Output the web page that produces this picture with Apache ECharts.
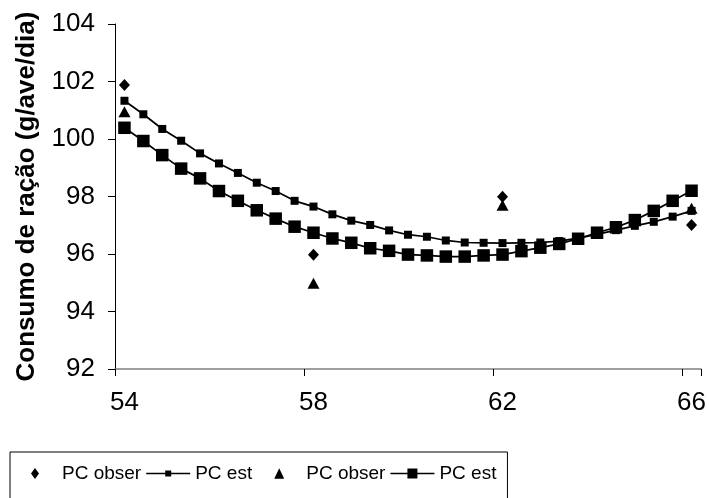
<!DOCTYPE html>
<html>
<head>
<meta charset="utf-8">
<script src="https://cdn.jsdelivr.net/npm/echarts@6/dist/echarts.min.js"></script>
<style>
  html, body { margin: 0; padding: 0; background: #fff; }
  #chart { width: 709px; height: 498px; }
</style>
</head>
<body>
<div id="chart"></div>
<script>
// x categories (dias)
const categories = ['54','54.4','54.8','55.2','55.6','56','56.4','56.8','57.2','57.6',
                    '58','58.4','58.8','59.2','59.6','60','60.4','60.8','61.2','61.6',
                    '62','62.4','62.8','63.2','63.6','64','64.4','64.8','65.2','65.6','66'];
// observed days
const obsCats = ['54', '58', '62', '66'];
// PC obser (diamond)
const pcObser1 = [101.88, 95.97, 97.99, 97.01];
// PC obser (triangle)
const pcObser2 = [100.95, 94.98, 97.70, 97.59];
// PC est (small squares)
const pcEst1 = [101.33, 100.86, 100.35, 99.94, 99.50, 99.15, 98.82, 98.48, 98.19, 97.85,
                97.65, 97.38, 97.16, 97.01, 96.82, 96.67, 96.60, 96.47, 96.40, 96.39,
                96.38, 96.39, 96.40, 96.45, 96.55, 96.68, 96.83, 96.98, 97.12, 97.30, 97.50];
// PC est (big squares)
const pcEst2 = [100.39, 99.93, 99.44, 98.97, 98.63, 98.19, 97.85, 97.52, 97.23, 96.95,
                96.74, 96.54, 96.39, 96.20, 96.11, 95.98, 95.95, 95.91, 95.91, 95.95,
                95.98, 96.10, 96.22, 96.35, 96.53, 96.74, 96.93, 97.18, 97.50, 97.85, 98.20];
const yTicks = [92, 94, 96, 98, 100, 102, 104];
const legendLabels = { obs1: 'PC obser', est1: 'PC est', obs2: 'PC obser', est2: 'PC est' };
const yTitle = 'Consumo de ração (g/ave/dia)';

const FONT = 'Liberation Sans, Arial, sans-serif';
const chart = echarts.init(document.getElementById('chart'), null, { renderer: 'canvas' });

chart.setOption({
  animation: false,
  backgroundColor: '#fff',
  grid: { left: 115, right: 8, top: 24, bottom: 129, containLabel: false, outerBoundsMode: 'none' },
  xAxis: {
    type: 'category',
    data: categories,
    boundaryGap: true,
    axisLine: { show: true, lineStyle: { color: '#808080', width: 1.5 } },
    axisTick: { show: true, interval: 9, length: 7, inside: false, lineStyle: { color: '#000', width: 1 } },
    axisLabel: { interval: 9, margin: 21, fontSize: 26, color: '#000', fontFamily: FONT },
    splitLine: { show: false }
  },
  yAxis: {
    type: 'value',
    min: yTicks[0],
    max: yTicks[yTicks.length - 1],
    interval: 2,
    name: yTitle,
    nameLocation: 'middle',
    nameRotate: 90,
    nameGap: 75,
    nameTextStyle: { fontSize: 26, fontWeight: 'bold', color: '#000', fontFamily: FONT },
    axisLine: { show: true, lineStyle: { color: '#000', width: 1 } },
    axisTick: { show: true, length: 7, inside: false, lineStyle: { color: '#000', width: 1 } },
    axisLabel: { margin: 20, fontSize: 26, color: '#000', fontFamily: FONT },
    splitLine: { show: false }
  },
  legend: {
    left: 10,
    top: 452,
    orient: 'horizontal',
    itemWidth: 44,
    itemHeight: 12,
    itemGap: 5,
    padding: [12, 11, 40, 3],
    borderColor: '#000',
    borderWidth: 1,
    backgroundColor: '#fff',
    selectedMode: false,
    formatter: function (n) { return legendLabels[n]; },
    textStyle: { fontSize: 19, color: '#000', fontFamily: FONT },
    data: [
      { name: 'obs1', icon: 'path://M0,6L0.01,6Z M22,1L26,6.5L22,12L18,6.5Z M44,6L43.99,6Z' },
      { name: 'est1', icon: 'path://M0,5.25H19V3H25V5.25H44V6.75H25V9H19V6.75H0Z M0,0L0.01,0Z M0,12L0.01,12Z' },
      { name: 'obs2', icon: 'path://M0,6L0.01,6Z M22,1.5L27,12H17Z M44,6L43.99,6Z' },
      { name: 'est2', icon: 'path://M0,5.25H17V1H27V5.25H44V6.75H27V11H17V6.75H0Z M0,0L0.01,0Z M0,12L0.01,12Z' }
    ]
  },
  series: [
    {
      name: 'obs1', type: 'scatter',
      data: obsCats.map((c, i) => [c, pcObser1[i]]),
      symbol: 'diamond', symbolSize: [11, 12],
      itemStyle: { color: '#000', opacity: 1 }, z: 3
    },
    {
      name: 'est1', type: 'line',
      data: pcEst1,
      symbol: 'rect', symbolSize: 8, showAllSymbol: true,
      lineStyle: { color: '#000', width: 1.75 },
      itemStyle: { color: '#000', opacity: 1 }, z: 4
    },
    {
      name: 'obs2', type: 'scatter',
      data: obsCats.map((c, i) => [c, pcObser2[i]]),
      symbol: 'triangle', symbolSize: [12, 11],
      itemStyle: { color: '#000', opacity: 1 }, z: 3
    },
    {
      name: 'est2', type: 'line',
      data: pcEst2,
      symbol: 'rect', symbolSize: 12.5, showAllSymbol: true,
      lineStyle: { color: '#000', width: 1.75 },
      itemStyle: { color: '#000', opacity: 1 }, z: 5
    }
  ]
});
</script>
</body>
</html>
